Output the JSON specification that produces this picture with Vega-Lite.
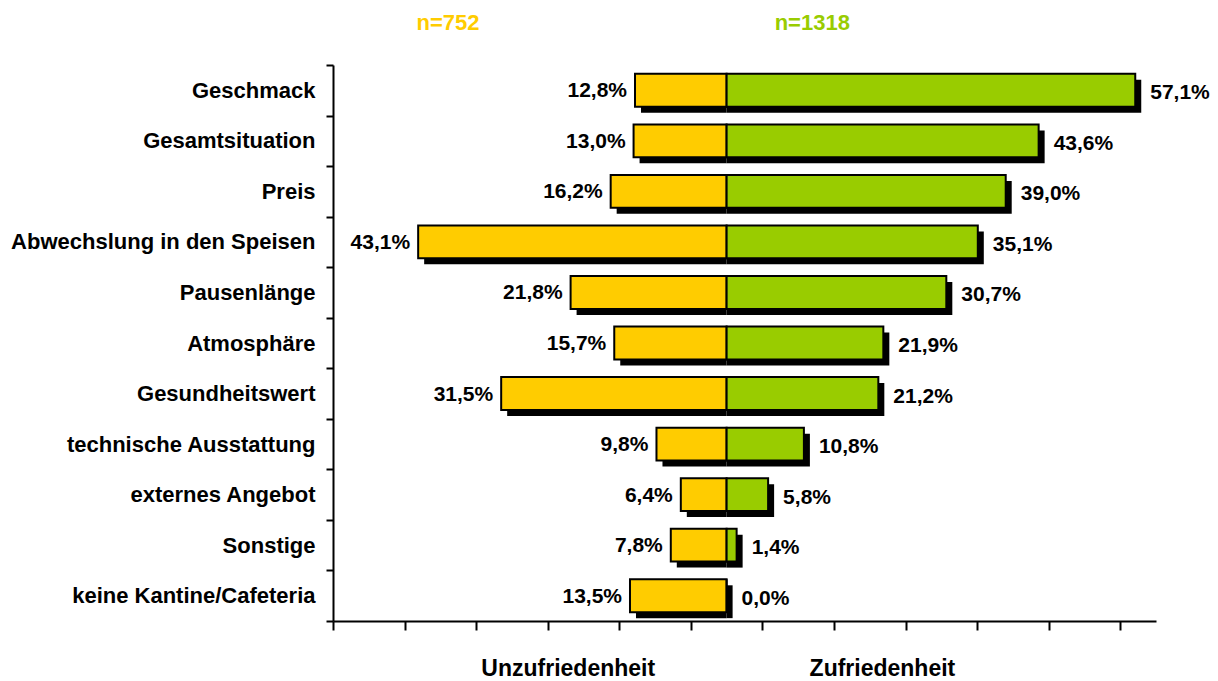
{
  "$schema": "https://vega.github.io/schema/vega-lite/v6.json",
  "width": 823,
  "height": 556,
  "autosize": {"type": "none"},
  "padding": {"left": 333, "top": 65, "right": 62, "bottom": 60},
  "background": "white",
  "config": {
    "view": {"stroke": null},
    "font": "Liberation Sans",
    "axis": {"grid": false, "title": null}
  },
  "data": {
    "values": [
      {"Kategorie": "Geschmack", "Gruppe": "Unzufriedenheit", "Anteil": -12.8},
      {"Kategorie": "Geschmack", "Gruppe": "Zufriedenheit", "Anteil": 57.1},
      {"Kategorie": "Gesamtsituation", "Gruppe": "Unzufriedenheit", "Anteil": -13.0},
      {"Kategorie": "Gesamtsituation", "Gruppe": "Zufriedenheit", "Anteil": 43.6},
      {"Kategorie": "Preis", "Gruppe": "Unzufriedenheit", "Anteil": -16.2},
      {"Kategorie": "Preis", "Gruppe": "Zufriedenheit", "Anteil": 39.0},
      {"Kategorie": "Abwechslung in den Speisen", "Gruppe": "Unzufriedenheit", "Anteil": -43.1},
      {"Kategorie": "Abwechslung in den Speisen", "Gruppe": "Zufriedenheit", "Anteil": 35.1},
      {"Kategorie": "Pausenlänge", "Gruppe": "Unzufriedenheit", "Anteil": -21.8},
      {"Kategorie": "Pausenlänge", "Gruppe": "Zufriedenheit", "Anteil": 30.7},
      {"Kategorie": "Atmosphäre", "Gruppe": "Unzufriedenheit", "Anteil": -15.7},
      {"Kategorie": "Atmosphäre", "Gruppe": "Zufriedenheit", "Anteil": 21.9},
      {"Kategorie": "Gesundheitswert", "Gruppe": "Unzufriedenheit", "Anteil": -31.5},
      {"Kategorie": "Gesundheitswert", "Gruppe": "Zufriedenheit", "Anteil": 21.2},
      {"Kategorie": "technische Ausstattung", "Gruppe": "Unzufriedenheit", "Anteil": -9.8},
      {"Kategorie": "technische Ausstattung", "Gruppe": "Zufriedenheit", "Anteil": 10.8},
      {"Kategorie": "externes Angebot", "Gruppe": "Unzufriedenheit", "Anteil": -6.4},
      {"Kategorie": "externes Angebot", "Gruppe": "Zufriedenheit", "Anteil": 5.8},
      {"Kategorie": "Sonstige", "Gruppe": "Unzufriedenheit", "Anteil": -7.8},
      {"Kategorie": "Sonstige", "Gruppe": "Zufriedenheit", "Anteil": 1.4},
      {"Kategorie": "keine Kantine/Cafeteria", "Gruppe": "Unzufriedenheit", "Anteil": -13.5},
      {"Kategorie": "keine Kantine/Cafeteria", "Gruppe": "Zufriedenheit", "Anteil": 0.0}
    ]
  },
  "transform": [
    {"calculate": "replace(format(abs(datum.Anteil), '.1f'), '.', ',') + '%'", "as": "Label"}
  ],
  "encoding": {
    "y": {
      "field": "Kategorie",
      "type": "nominal",
      "sort": ["Geschmack", "Gesamtsituation", "Preis", "Abwechslung in den Speisen", "Pausenlänge", "Atmosphäre", "Gesundheitswert", "technische Ausstattung", "externes Angebot", "Sonstige", "keine Kantine/Cafeteria"],
      "scale": {"paddingInner": 0, "paddingOuter": 0},
      "axis": {
        "title": null,
        "tickBand": "extent",
        "tickSize": 7,
        "tickWidth": 2,
        "tickColor": "black",
        "domainColor": "black",
        "domainWidth": 2,
        "labelFont": "Liberation Sans",
        "labelFontSize": 22,
        "labelFontWeight": "bold",
        "labelColor": "black",
        "labelPadding": 11,
        "labelLimit": 0
      }
    }
  },
  "resolve": {"axis": {"x": "independent"}},
  "layer": [
    {
      "mark": {"type": "bar", "color": "black", "xOffset": 6, "yOffset": 6, "height": {"band": 0.65}},
      "encoding": {
        "x": {
          "field": "Anteil",
          "type": "quantitative",
          "scale": {"domain": [-55, 60], "nice": false, "zero": false},
          "axis": {
            "orient": "bottom",
            "values": [-55, -45, -35, -25, -15, -5, 5, 15, 25, 35, 45, 55],
            "labels": false,
            "tickSize": 9,
            "tickWidth": 2,
            "tickColor": "black",
            "domainColor": "black",
            "domainWidth": 2,
            "grid": false,
            "title": null
          }
        },
        "x2": {"datum": 0}
      }
    },
    {
      "mark": {"type": "bar", "stroke": "black", "strokeWidth": 2, "height": {"band": 0.65}},
      "encoding": {
        "x": {"field": "Anteil", "type": "quantitative", "scale": {"domain": [-55, 60], "nice": false, "zero": false}, "axis": null},
        "x2": {"datum": 0},
        "color": {
          "field": "Gruppe",
          "type": "nominal",
          "scale": {"domain": ["Unzufriedenheit", "Zufriedenheit"], "range": ["#FFCC00", "#99CC00"]},
          "legend": null
        }
      }
    },
    {
      "transform": [{"filter": "datum.Gruppe === 'Unzufriedenheit'"}],
      "mark": {"type": "text", "align": "right", "baseline": "middle", "dx": -8, "dy": 1, "fontSize": 21, "fontWeight": "bold", "font": "Liberation Sans", "color": "black"},
      "encoding": {
        "x": {
          "field": "Anteil",
          "type": "quantitative",
          "scale": {"domain": [-55, 60], "nice": false, "zero": false},
          "axis": {
            "orient": "bottom",
            "values": [-22.2, 21.7],
            "labelExpr": "datum.value < 0 ? 'Unzufriedenheit' : 'Zufriedenheit'",
            "domain": false,
            "ticks": false,
            "tickSize": 0,
            "labelPadding": 54,
            "labelBaseline": "alphabetic",
            "labelFont": "Liberation Sans",
            "labelFontSize": 23,
            "labelFontWeight": "bold",
            "labelColor": "black",
            "labelOverlap": false,
            "labelBound": false,
            "labelFlush": false,
            "grid": false,
            "title": null
          }
        },
        "text": {"field": "Label"}
      }
    },
    {
      "transform": [{"filter": "datum.Gruppe === 'Zufriedenheit'"}],
      "mark": {"type": "text", "align": "left", "baseline": "middle", "dx": 15, "dy": 3, "fontSize": 21, "fontWeight": "bold", "font": "Liberation Sans", "color": "black"},
      "encoding": {
        "x": {
          "field": "Anteil",
          "type": "quantitative",
          "scale": {"domain": [-55, 60], "nice": false, "zero": false},
          "axis": {
            "orient": "top",
            "values": [-39, 11.9],
            "labelExpr": "datum.value < 0 ? 'n=752' : 'n=1318'",
            "domain": false,
            "ticks": false,
            "tickSize": 0,
            "labelPadding": 36,
            "labelBaseline": "alphabetic",
            "labelFont": "Liberation Sans",
            "labelFontSize": 22,
            "labelFontWeight": "bold",
            "labelColor": {"condition": {"test": "datum.value < 0", "value": "#FFCC00"}, "value": "#99CC00"},
            "labelOverlap": false,
            "labelBound": false,
            "labelFlush": false,
            "grid": false,
            "title": null
          }
        },
        "text": {"field": "Label"}
      }
    }
  ]
}
